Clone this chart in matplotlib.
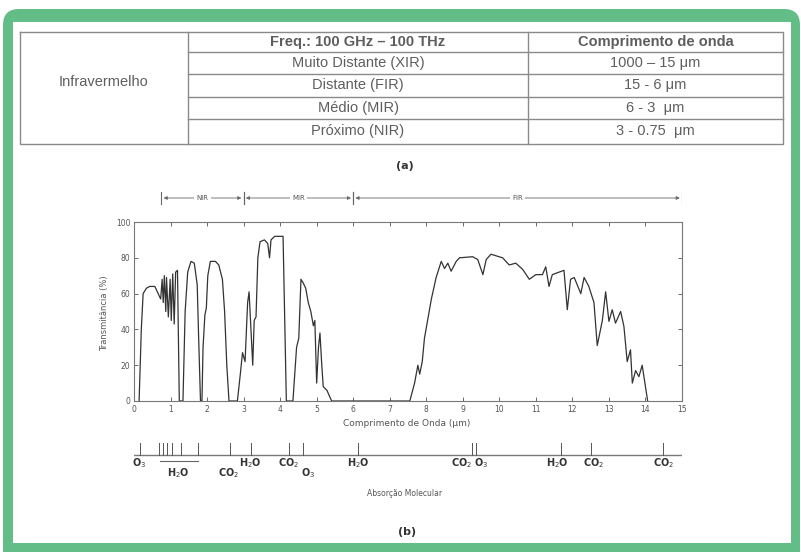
import matplotlib
matplotlib.use("Agg")
import matplotlib.pyplot as plt
from matplotlib.patches import FancyBboxPatch, Rectangle

# ---------------- data ----------------
table_header = ["Freq.: 100 GHz \u2013 100 THz", "Comprimento de onda"]
table_group = "Infravermelho"
table_names = ["Muito Distante (XIR)", "Distante (FIR)", "M\u00e9dio (MIR)", "Pr\u00f3ximo (NIR)"]
table_ranges = ["1000 \u2013 15 \u03bcm", "15 - 6 \u03bcm", "6 - 3  \u03bcm", "3 - 0.75  \u03bcm"]

# transmittance curve (wavelength in um, transmittance in %)
wl = [0.14, 0.20, 0.25, 0.34, 0.43, 0.57, 0.66, 0.73, 0.77, 0.80, 0.83, 0.87, 0.89, 0.94,
      0.99, 1.02, 1.06, 1.10, 1.14, 1.19, 1.22, 1.24,
      1.34, 1.40, 1.47, 1.56, 1.65, 1.73, 1.77, 1.82,
      1.86, 1.89, 1.94, 1.98, 2.02, 2.09, 2.23, 2.32, 2.42, 2.48, 2.54, 2.60,
      2.83, 2.91, 2.97, 3.04, 3.11, 3.15, 3.20, 3.25, 3.29, 3.34, 3.39, 3.45, 3.57, 3.66,
      3.71, 3.75, 3.85, 4.08, 4.12, 4.17,
      4.35, 4.45, 4.51, 4.57, 4.63, 4.70, 4.77, 4.84, 4.91, 4.95, 5.00, 5.05, 5.09, 5.14,
      5.18, 5.28, 5.41,
      7.55, 7.68, 7.77, 7.82, 7.89, 7.95, 8.14, 8.27, 8.41, 8.50, 8.59, 8.68, 8.82, 8.91,
      9.27, 9.41, 9.55, 9.64, 9.77, 10.09, 10.27, 10.45, 10.64, 10.82, 11.00, 11.18, 11.27,
      11.36, 11.45, 11.77, 11.86, 11.95, 12.05, 12.23, 12.32, 12.45, 12.59, 12.68, 12.82,
      12.91, 13.00, 13.09, 13.18, 13.32, 13.41, 13.50, 13.59, 13.64, 13.73, 13.82, 13.91,
      14.06]
trans = [0, 40, 60, 63, 64, 64, 60, 57, 68, 55, 70, 50, 69, 47,
         68, 45, 71, 43, 72, 73, 30, 0,
         0, 50, 72, 78, 77, 65, 35, 0,
         0, 30, 48, 52, 70, 78, 78, 76, 68, 50, 20, 0,
         0, 15, 27, 22, 55, 61, 40, 20, 45, 47, 80, 89, 90, 88,
         80, 90, 92, 92, 50, 0,
         0, 30, 35, 68, 66, 63, 55, 50, 42, 45, 10, 30, 38, 20,
         8, 6, 0,
         0, 10, 20, 15, 22, 35, 57, 69, 78, 74, 77, 72.5, 78, 80,
         80.6, 79, 70.6, 79, 82, 80, 76, 77, 73.5, 68, 70.6, 70.6, 75,
         64, 70.6, 73, 51, 68, 69, 60, 69, 64, 55, 31, 45,
         61, 44.5, 51, 43.5, 50, 41.7, 22, 28.6, 10, 17, 13.6, 20,
         0]

x_ticks = list(range(0, 16))
y_ticks = [0, 20, 40, 60, 80, 100]

bands = [("NIR", 0.75, 3.0), ("MIR", 3.0, 6.0), ("FIR", 6.0, 15.0)]

mol_ticks = [0.16, 0.69, 0.80, 0.90, 1.04, 1.30, 1.75, 2.63, 3.20, 4.25, 4.63,
             6.13, 9.25, 9.36, 11.70, 12.50, 14.49]
mol_labels = ["O$_3$", "H$_2$O", "CO$_2$", "H$_2$O", "CO$_2$", "O$_3$", "H$_2$O",
              "CO$_2$ O$_3$", "H$_2$O", "CO$_2$", "CO$_2$"]
mol_label_x = [0.14, 1.20, 2.58, 3.18, 4.22, 4.77, 6.14, 9.20, 11.60, 12.58, 14.50]
mol_label_row = [1, 2, 2, 1, 1, 2, 1, 1, 1, 1, 1]

# ---------------- figure ----------------
W, H = 801, 552
fig = plt.figure(figsize=(W / 100, H / 100), dpi=100)
fig.patch.set_facecolor("white")

bg = fig.add_axes([0, 0, 1, 1])
bg.set_xlim(0, W)
bg.set_ylim(H, 0)
bg.axis("off")

green = "#63bd86"
bg.add_patch(FancyBboxPatch((3, 9), 797, 580, boxstyle="round,pad=0,rounding_size=16",
                            facecolor=green, edgecolor="none"))
bg.add_patch(Rectangle((13, 22), 778, 521, facecolor="white", edgecolor="none"))

# table
lc = "#8a8a8a"
tx0, tx1, tx2, tx3 = 20, 188, 528, 783
rows = [32, 52, 74, 97, 119, 144]
bg.plot([tx0, tx3, tx3, tx0, tx0], [rows[0], rows[0], rows[-1], rows[-1], rows[0]], color=lc, lw=1)
for r in rows[1:-1]:
    bg.plot([tx1, tx3], [r, r], color=lc, lw=1)
bg.plot([tx1, tx1], [rows[0], rows[-1]], color=lc, lw=1)
bg.plot([tx2, tx2], [rows[0], rows[-1]], color=lc, lw=1)

tf = dict(family=["Liberation Sans", "DejaVu Sans"], fontsize=10.5, color="#5e5e5e",
          ha="center", va="center")
bg.text((tx0 + tx1) / 2, 82, table_group, **tf)
bg.text((tx1 + tx2) / 2, 42, table_header[0], fontweight="bold", **tf)
bg.text((tx2 + tx3) / 2, 42, table_header[1], fontweight="bold", **tf)
for i in range(4):
    yc = (rows[i + 1] + rows[i + 2]) / 2
    bg.text((tx1 + tx2) / 2, yc, table_names[i], **tf)
    bg.text((tx2 + tx3) / 2, yc, table_ranges[i], **tf)

bg.text(405, 166, "(a)", fontsize=8, fontweight="bold", color="#333333", ha="center", va="center")
bg.text(407, 532, "(b)", fontsize=8, fontweight="bold", color="#333333", ha="center", va="center")
bg.text(405, 493, "Absor\u00e7\u00e3o Molecular", fontsize=5.5, color="#555555",
        ha="center", va="center")

# main plot
L, R, T, B = 134, 682, 222, 401
ax = fig.add_axes([L / W, 1 - B / H, (R - L) / W, (B - T) / H])
ax.plot(wl, trans, color="#333333", lw=0.9)
ax.set_xlim(0, 15)
ax.set_ylim(0, 100)
ax.set_xticks(x_ticks)
ax.set_yticks(y_ticks)
ax.tick_params(direction="in", length=3, width=0.6, labelsize=5.5, colors="#555555",
               top=True, right=True)
ax.tick_params(axis="x", pad=3)
ax.tick_params(axis="y", pad=2.5)
for s in ax.spines.values():
    s.set_color("#777777")
    s.set_linewidth(0.8)
ax.set_ylabel("Transmit\u00e2ncia (%)", fontsize=6, color="#555555")
ax.yaxis.set_label_coords(-25 / (R - L), 0.49)
ax.set_xlabel("Comprimento de Onda (\u03bcm)", fontsize=6.5, color="#555555")
ax.xaxis.set_label_coords((407 - L) / (R - L), (B - 423) / (B - T))
ax.xaxis.label.set_va("center")

# band bar
bax = fig.add_axes([L / W, 1 - 210 / H, (R - L) / W, 24 / H])
bax.set_xlim(0, 15)
bax.set_ylim(210, 186)
bax.axis("off")
bc = "#666666"
for name, s, e in bands:
    for xb in (s, e):
        bax.plot([xb, xb], [192, 204], color=bc, lw=0.8)
    mid = (s + e) / 2
    for tip in (s + 0.06, e - 0.06):
        bax.annotate("", xy=(tip, 198), xytext=(mid, 198),
                     arrowprops=dict(arrowstyle="-|>", color=bc, lw=0.6, mutation_scale=5,
                                     shrinkA=0, shrinkB=0))
    bax.text(mid, 198, name, fontsize=5, color="#555555", ha="center", va="center",
             bbox=dict(facecolor="white", edgecolor="none", pad=1.5))

# molecular absorption
max_ = fig.add_axes([L / W, 1 - 505 / H, (R - L) / W, 70 / H])
max_.set_xlim(0, 15)
max_.set_ylim(505, 435)
max_.axis("off")
max_.plot([-0.03, 15.03], [455, 455], color="#777777", lw=1)
for xt in mol_ticks:
    max_.plot([xt, xt], [443, 455], color="#555555", lw=0.7)
max_.plot([0.72, 1.75], [461, 461], color="#666666", lw=0.8)
for lab, xl, rw in zip(mol_labels, mol_label_x, mol_label_row):
    yl = 463 if rw == 1 else 473
    max_.text(xl, yl, lab, fontsize=7, fontweight="bold", color="#333333",
              ha="center", va="center")

fig.savefig("out.png", dpi=100, facecolor="white")
